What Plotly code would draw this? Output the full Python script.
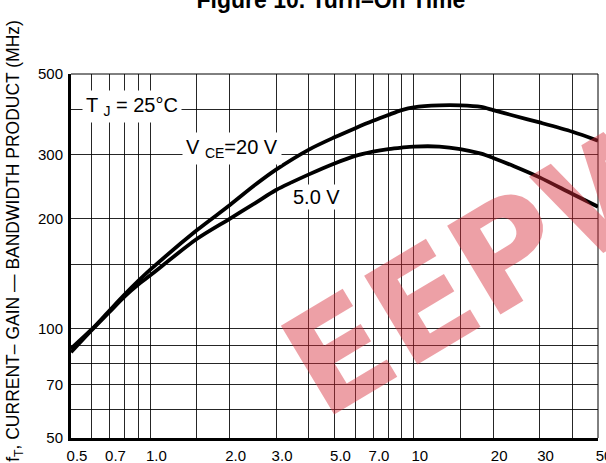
import numpy as np
import plotly.graph_objects as go

# ---- data ----
ic_ma = [0.5, 0.6, 0.7, 0.8, 0.9, 1.0, 1.5, 2.0, 2.5, 3.0, 4.0, 5.0, 6.0, 7.0, 8.0, 9.0,
         10, 12.5, 15, 18, 20, 24, 30, 40, 50]
ft_20v = [88, 99.5, 112, 124, 135, 145, 186, 218, 248, 273, 310, 335, 355, 372, 386, 398,
          405, 410, 410, 406, 398, 384, 368, 347, 328]
ft_5v = [86, 99, 111, 122.5, 132, 140, 176, 200, 221, 240, 265, 284, 298, 306, 311, 314,
         316, 316, 311, 302, 294, 279, 260, 234, 216]

x_tickvals = [0.5, 0.7, 1.0, 2.0, 3.0, 5.0, 7.0, 10, 20, 30, 50]
x_ticktext = ["0.5", "0.7", "1.0", "2.0", "3.0", "5.0", "7.0", "10", "20", "30", "50"]
x_minor = [0.6, 0.8, 0.9, 1.5, 4, 6, 8, 9, 15, 40]
y_tickvals = [50, 70, 100, 200, 300, 500]
y_ticktext = ["50", "70", "100", "200", "300", "500"]
y_minor = [60, 80, 90, 150, 400]

FONT = "Liberation Sans"
GRID = "rgba(0,0,0,0.85)"

fig = go.Figure()
for ys in (ft_20v, ft_5v):
    fig.add_trace(go.Scatter(x=ic_ma, y=ys, mode="lines",
                             line=dict(color="black", width=3.8, shape="spline", smoothing=0.8),
                             showlegend=False, hoverinfo="skip"))

fig.update_layout(
    width=606, height=463,
    margin=dict(l=71, r=8, t=74, b=25),
    paper_bgcolor="white", plot_bgcolor="white",
    font=dict(family=FONT, color="black", size=15),
    title=dict(text="<b>Figure 10. Turn–On Time</b>", font=dict(family=FONT, size=23, color="black"),
               x=0.546, xanchor="center", xref="container", y=1.0, yanchor="middle", yref="container",
               automargin=False),
    xaxis=dict(type="log", range=[np.log10(0.5) - 1e-6, np.log10(50) + 1e-6],
               tickmode="array", tickvals=x_tickvals, ticktext=x_ticktext,
               showgrid=True, gridcolor=GRID, gridwidth=1,
               minor=dict(tickmode="array", tickvals=x_minor, showgrid=True, gridcolor=GRID, gridwidth=1, ticks=""),
               showline=True, linewidth=3, linecolor="black", ticks="",
               ticklabelshift=6, ticklabelstandoff=2, ticklabeloverflow="allow",
               zeroline=False, automargin=False,
               tickfont=dict(size=15)),
    yaxis=dict(type="log", range=[np.log10(50) - 1e-6, np.log10(500) + 1e-6],
               tickmode="array", tickvals=y_tickvals, ticktext=y_ticktext,
               showgrid=True, gridcolor=GRID, gridwidth=1,
               minor=dict(tickmode="array", tickvals=y_minor, showgrid=True, gridcolor=GRID, gridwidth=1, ticks=""),
               showline=True, linewidth=3, linecolor="black", ticks="",
               ticklabelstandoff=2, ticklabeloverflow="allow", zeroline=False, automargin=False,
               tickfont=dict(size=15)),
)

# top and right frame lines (thin)
fig.add_shape(type="line", xref="paper", yref="paper", x0=0, x1=1, y0=1, y1=1,
              line=dict(color="black", width=1))
fig.add_shape(type="line", xref="paper", yref="paper", x0=1, x1=1, y0=0, y1=1,
              line=dict(color="black", width=1))

# watermark
fig.add_annotation(text="<b>EEPW</b>", xref="paper", yref="paper", x=0.80, y=0.485,
                   xanchor="center", yanchor="middle",
                   showarrow=False, textangle=-31,
                   font=dict(family="DejaVu Sans", size=142, color="rgba(215,45,58,0.45)"))

# labels
fig.add_annotation(text="T <sub>J</sub> = 25°C", x=np.log10(0.55), y=np.log10(408),
                   xanchor="left", yanchor="middle", showarrow=False,
                   font=dict(size=20), bgcolor="white", borderpad=3)
fig.add_annotation(text="V <sub>CE</sub>=20 V", x=np.log10(1.32), y=np.log10(312),
                   xanchor="left", yanchor="middle", showarrow=False,
                   font=dict(size=20), bgcolor="white", borderpad=3)
fig.add_annotation(text="5.0 V", x=np.log10(4.29), y=np.log10(229),
                   xanchor="center", yanchor="middle", showarrow=False,
                   font=dict(size=20), bgcolor="white", borderpad=1)

# y axis title
fig.add_annotation(text="f<sub>T</sub>, CURRENT– GAIN — BANDWIDTH PRODUCT (MHz)",
                   xref="paper", yref="paper", x=-0.106, y=0.542, textangle=-90,
                   xanchor="center", yanchor="middle", showarrow=False,
                   font=dict(size=17.5))

fig.write_html("out.html", config={"displayModeBar": False},
               post_script="document.body.style.margin='0px';")
